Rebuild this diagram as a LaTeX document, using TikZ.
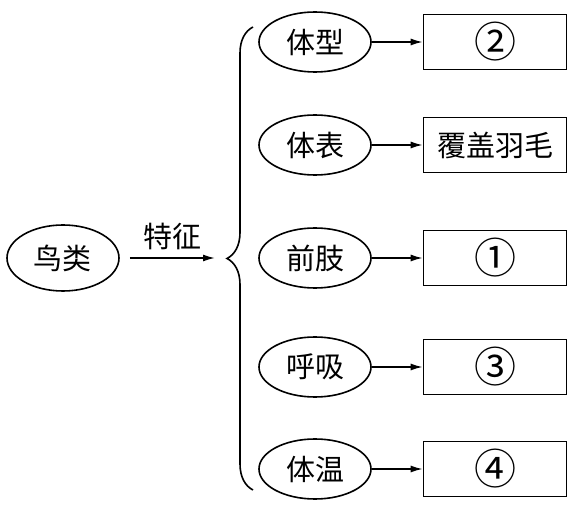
\documentclass[tikz,border=0pt]{standalone}
\usepackage{fontspec}
\newfontfamily\cjk{Noto Sans CJK SC}
\usetikzlibrary{arrows.meta, shapes.geometric, decorations.pathreplacing}
\tikzset{
    oval/.style={ellipse,draw,line width=1.6pt,inner sep=0pt,minimum width=112pt,minimum height=60pt,font=\cjk\fontsize{29}{32}\selectfont},
    answer/.style={rectangle,draw,line width=1.6pt,inner sep=0pt,minimum width=143pt,minimum height=55pt,font=\cjk\fontsize{29}{32}\selectfont},
    blank/.style={answer,font=\cjk\fontsize{42}{44}\selectfont},
    dedge/.style={-{Latex[length=12pt,width=7pt]}, line width=1.6pt},
    label/.style={font=\cjk\fontsize{29}{32}\selectfont},
}

\begin{document}
\begin{tikzpicture}[x=1pt,y=-1pt]
    \useasboundingbox (0,0) rectangle (574,505);
    \node[oval, minimum height=66pt] (bird) at (63,258) {鸟类};
    \coordinate (tip) at (215,258);
    \draw[dedge, shorten <=10pt] (bird) -- (tip);
    \node[label] (feat) at (172,236) {特征};
    \draw[line width=1.6pt, decorate, decoration={brace, amplitude=26pt}] (253,490) -- (253,27);
    \node[oval] (p1) at (315,42) {体型};
    \node[oval] (p2) at (315,145) {体表};
    \node[oval] (p3) at (315,258) {前肢};
    \node[oval] (p4) at (315,367) {呼吸};
    \node[oval] (p5) at (315,469) {体温};
    \node[blank] (a1) at (495,42) {②};
    \node[answer] (a2) at (495,145) {覆盖羽毛};
    \node[blank] (a3) at (495,258) {①};
    \node[blank] (a4) at (495,367) {③};
    \node[blank] (a5) at (495,469) {④};
    \draw[dedge] (p1) -- (a1);
    \draw[dedge] (p2) -- (a2);
    \draw[dedge] (p3) -- (a3);
    \draw[dedge] (p4) -- (a4);
    \draw[dedge] (p5) -- (a5);
\end{tikzpicture}
\end{document}
